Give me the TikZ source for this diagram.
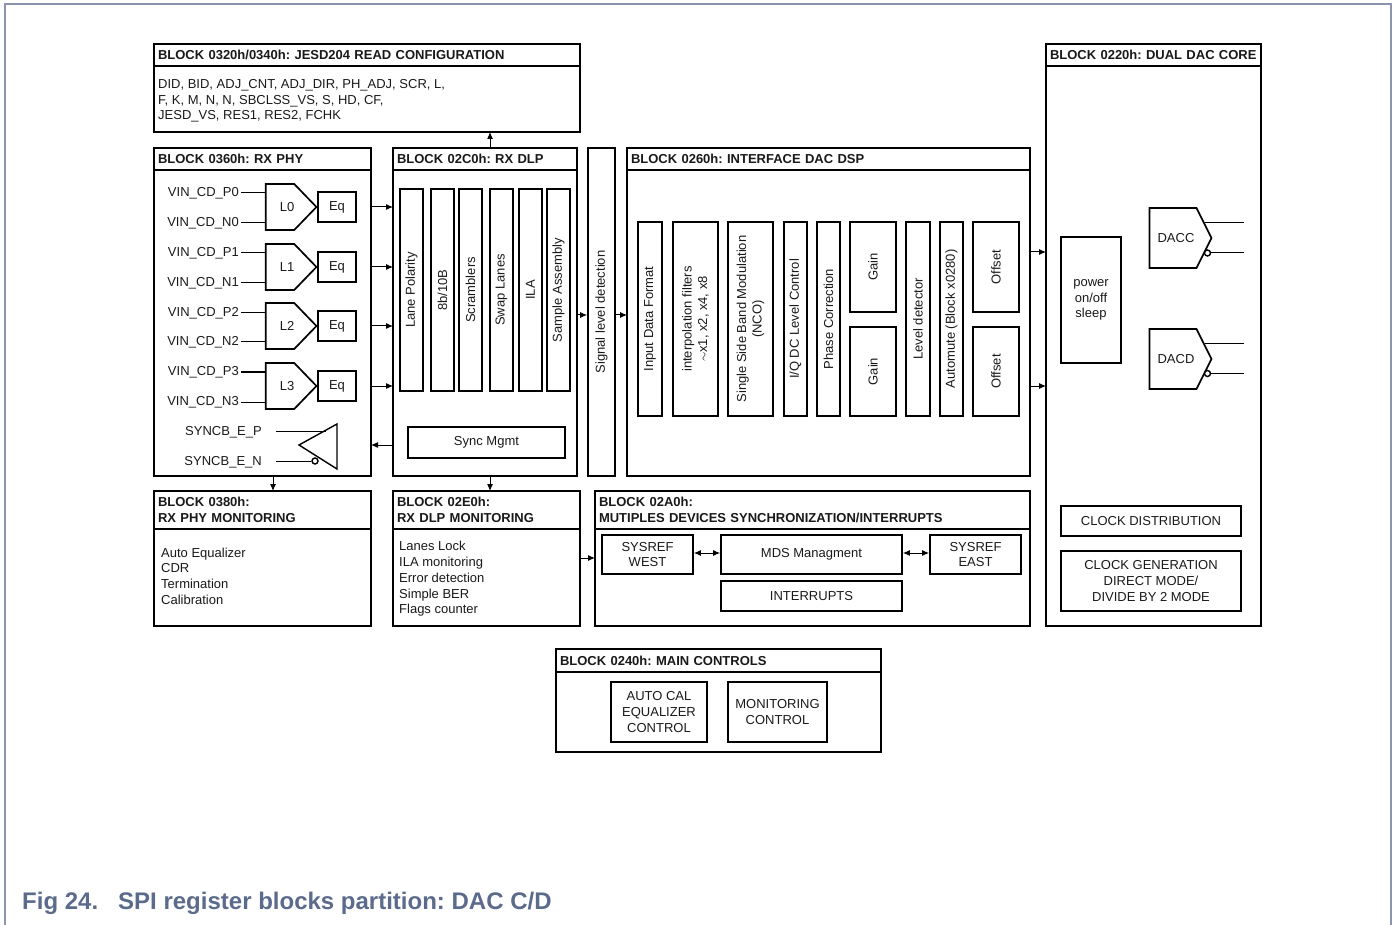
\documentclass[tikz,border=0pt]{standalone}
\usepackage{fontspec}
\setmainfont{Liberation Sans}
\usetikzlibrary{arrows.meta,shapes.symbols}
\definecolor{nxpblue}{HTML}{5B6B8C}
\definecolor{framegray}{HTML}{8A94AC}
\begin{document}
\frenchspacing
\begin{tikzpicture}
[
x=1pt, y=-1pt,
every node/.style ={font=\fontsize{13}{15.7}\selectfont, text=black!90},
head/.style={draw, line width=1.7pt, outer sep=0pt, anchor=north west, inner xsep=4pt, inner ysep=0pt, align=left, font=\fontsize{13}{15.7}\selectfont\bfseries},
body/.style={draw, line width=1.7pt, outer sep=0pt, anchor=north west},
box/.style={draw, line width=1.7pt, align=center, inner sep=0pt},
bar/.style={box, rotate=90},
listing/.style={anchor=west, align=left, inner sep=0pt},
pin/.style={anchor=east, inner sep=2pt},
lane/.style={draw, line width=1.7pt, shape=signal, signal to=east, signal pointer angle=92, minimum width=50pt, minimum height=46pt, inner sep=0pt},
dac/.style={draw, line width=1.7pt, shape=signal, signal to=east, signal pointer angle=127, minimum width=62pt, minimum height=60pt, inner sep=0pt},
bubble/.style={circle, draw, line width=1.4pt, fill=white, minimum size=6pt, inner sep=0pt},
wire/.style={line width=1pt},
arr/.style={line width=1pt, -{Latex[length=7pt,width=6pt]}},
darr/.style={line width=1pt, {Latex[length=7pt,width=6pt]}-{Latex[length=7pt,width=6pt]}},
]
%
\useasboundingbox (0,0) rectangle (1398,925);
\draw [framegray, line width=1.5pt] (5,925) -- (5,4) -- (1391,4) -- (1391,925);

% JESD204 read configuration
\node [head, text width=418pt, minimum height=22pt] (JESDh) at (154,44) {BLOCK 0320h/0340h: JESD204 READ CONFIGURATION};
\node [body, minimum width=426pt, minimum height=66pt] (JESDb) at (154,66) {};
\node [listing] (JESDt) at (158,101) {DID, BID, ADJ\_CNT, ADJ\_DIR, PH\_ADJ, SCR, L,\\F, K, M, N, N, SBCLSS\_VS, S, HD, CF,\\JESD\_VS, RES1, RES2, FCHK};

% RX PHY
\node [head, text width=209pt, minimum height=22pt] (PHYh) at (154,148) {BLOCK 0360h: RX PHY};
\node [body, minimum width=217pt, minimum height=306pt] (PHYb) at (154,170) {};
%
\node [lane] (L0) at (280,207) {\hspace*{14pt}L0};
\node [lane] (L1) at (280,267) {\hspace*{14pt}L1};
\node [lane] (L2) at (280,326) {\hspace*{14pt}L2};
\node [lane] (L3) at (280,386) {\hspace*{14pt}L3};
\node [box, minimum width=38pt, minimum height=30pt] (E0) at (337,207) {Eq};
\node [box, minimum width=38pt, minimum height=30pt] (E1) at (337,267) {Eq};
\node [box, minimum width=38pt, minimum height=30pt] (E2) at (337,326) {Eq};
\node [box, minimum width=38pt, minimum height=30pt] (E3) at (337,386) {Eq};
%
\node [pin] (P0) at (241,193) {VIN\_CD\_P0};
\node [pin] (N0) at (241,223) {VIN\_CD\_N0};
\node [pin] (P1) at (241,253) {VIN\_CD\_P1};
\node [pin] (N1) at (241,283) {VIN\_CD\_N1};
\node [pin] (P2) at (241,313) {VIN\_CD\_P2};
\node [pin] (N2) at (241,342) {VIN\_CD\_N2};
\node [pin] (P3) at (241,372) {VIN\_CD\_P3};
\node [pin] (N3) at (241,402) {VIN\_CD\_N3};
%
\draw [wire] (P0.east) -- (P0.east -| L0.west);
\draw [wire] (N0.east) -- (N0.east -| L0.west);
\draw [wire] (P1.east) -- (P1.east -| L1.west);
\draw [wire] (N1.east) -- (N1.east -| L1.west);
\draw [wire] (P2.east) -- (P2.east -| L2.west);
\draw [wire] (N2.east) -- (N2.east -| L2.west);
\draw [wire] (P3.east) -- (P3.east -| L3.west);
\draw [wire] (N3.east) -- (N3.east -| L3.west);
%
\coordinate (SyncTip) at (299,445);
\coordinate (SyncTop) at (337,424);
\coordinate (SyncBot) at (337,469);
\draw [line width=1.4pt] (SyncTip) -- (SyncTop) -- (SyncBot) -- cycle;
\node [pin, inner sep=0pt] (SP) at (262,432) {SYNCB\_E\_P};
\node [pin, inner sep=0pt] (SN) at (262,462) {SYNCB\_E\_N};
\node [bubble] (SB) at (315,461) {};
\coordinate (SPe) at (326,431);
\coordinate (SPs) at (276,431);
\coordinate (SNs) at (276,461);
\draw [wire] (SPs) -- (SPe);
\draw [wire] (SNs) -- (SB.west);

% RX DLP
\node [head, text width=176pt, minimum height=22pt] (DLPh) at (393,148) {BLOCK 02C0h: RX DLP};
\node [body, minimum width=184pt, minimum height=306pt] (DLPb) at (393,170) {};
%
\node [bar, minimum width=202pt, minimum height=23pt] (Polarity) at (411.5,290) {Lane Polarity};
\node [bar, minimum width=202pt, minimum height=23pt] (Coding) at (442.5,290) {8b/10B};
\node [bar, minimum width=202pt, minimum height=23pt] (Scramblers) at (470.5,290) {Scramblers};
\node [bar, minimum width=202pt, minimum height=23pt] (Swap) at (501.5,290) {Swap Lanes};
\node [bar, minimum width=202pt, minimum height=23pt] (ILA) at (530.5,290) {ILA};
\node [bar, minimum width=202pt, minimum height=23pt] (Assembly) at (558.5,290) {Sample Assembly};
\node [box, minimum width=157pt, minimum height=31pt] (Sync) at (486.5,442.5) {Sync Mgmt};

% signal level detection
\node [bar, minimum width=328pt, minimum height=27pt] (Level) at (601.5,312) {Signal level detection};

% interface DAC DSP
\node [head, text width=395pt, minimum height=22pt] (DSPh) at (627,148) {BLOCK 0260h: INTERFACE DAC DSP};
\node [body, minimum width=403pt, minimum height=306pt] (DSPb) at (627,170) {};
%
\node [bar, minimum width=194pt, minimum height=24pt] (Format) at (650,319) {Input Data Format};
\node [bar, minimum width=194pt, minimum height=45pt] (Interp) at (695.5,319) {interpolation filters\\$\sim$x1, x2, x4, x8};
\node [bar, minimum width=194pt, minimum height=45pt] (NCO) at (750.5,319) {Single Side Band Modulation\\(NCO)};
\node [bar, minimum width=194pt, minimum height=23pt] (DCLevel) at (795.5,319) {I/Q DC Level Control};
\node [bar, minimum width=194pt, minimum height=23pt] (Phase) at (828.5,319) {Phase Correction};
\node [bar, minimum width=90pt, minimum height=46pt] (GainA) at (873,267) {Gain};
\node [bar, minimum width=89pt, minimum height=46pt] (GainB) at (873,371.5) {Gain};
\node [bar, minimum width=194pt, minimum height=24pt] (LevelDet) at (918,319) {Level detector};
\node [bar, minimum width=194pt, minimum height=23pt] (Automute) at (951.5,319) {Automute (Block x0280)};
\node [bar, minimum width=90pt, minimum height=46pt] (OffsetA) at (996,267) {Offset};
\node [bar, minimum width=89pt, minimum height=46pt] (OffsetB) at (996,371.5) {Offset};

% dual DAC core
\node [head, text width=207pt, minimum height=22pt] (COREh) at (1046,44) {BLOCK 0220h: DUAL DAC CORE};
\node [body, minimum width=215pt, minimum height=560pt] (COREb) at (1046,66) {};
%
\node [box, minimum width=60pt, minimum height=126pt] (Power) at (1091,300) {power\\on/off\\sleep};
\node [dac] (DACC) at (1173,238) {\hspace*{6pt}DACC};
\node [dac] (DACD) at (1173,359) {\hspace*{6pt}DACD};
\node [bubble] (CB) at (1207.5,253) {};
\node [bubble] (DB) at (1207.5,373.5) {};
\coordinate (CPs) at (1205,223);
\coordinate (CPe) at (1244,223);
\coordinate (CNe) at (1244,253);
\coordinate (DPs) at (1205,344);
\coordinate (DPe) at (1244,344);
\coordinate (DNe) at (1244,373.5);
\draw [wire] (CPs) -- (CPe);
\draw [wire] (CB.east) -- (CNe);
\draw [wire] (DPs) -- (DPe);
\draw [wire] (DB.east) -- (DNe);
%
\node [box, minimum width=180pt, minimum height=30pt] (ClkDist) at (1151,521) {CLOCK DISTRIBUTION};
\node [box, minimum width=180pt, minimum height=60pt] (ClkGen) at (1151,581) {CLOCK GENERATION\\DIRECT MODE/\\DIVIDE BY 2 MODE};

% RX PHY monitoring
\node [head, text width=209pt, minimum height=38pt] (PMONh) at (154,491) {BLOCK 0380h:\\RX PHY MONITORING};
\node [body, minimum width=217pt, minimum height=97pt] (PMONb) at (154,529) {};
\node [listing] (PMONt) at (161,576) {Auto Equalizer\\CDR\\Termination\\Calibration};

% RX DLP monitoring
\node [head, text width=179pt, minimum height=38pt] (DMONh) at (393,491) {BLOCK 02E0h:\\RX DLP MONITORING};
\node [body, minimum width=187pt, minimum height=97pt] (DMONb) at (393,529) {};
\node [listing] (DMONt) at (399,579) {Lanes Lock\\ILA monitoring\\Error detection\\Simple BER\\Flags counter};

% synchronization
\node [head, text width=427pt, minimum height=38pt] (MDSh) at (595,491) {BLOCK 02A0h:\\MUTIPLES DEVICES SYNCHRONIZATION/INTERRUPTS};
\node [body, minimum width=435pt, minimum height=97pt] (MDSb) at (595,529) {};
\node [box, minimum width=91pt, minimum height=39pt] (West) at (647.5,554.5) {SYSREF\\WEST};
\node [box, minimum width=181pt, minimum height=39pt] (Mgmt) at (811.5,554.5) {MDS Managment};
\node [box, minimum width=91pt, minimum height=39pt] (East) at (975.5,554.5) {SYSREF\\EAST};
\node [box, minimum width=181pt, minimum height=30pt] (Interrupts) at (811.5,596) {INTERRUPTS};

% main controls
\node [head, line width=1.2pt, text width=317pt, minimum height=23pt] (MAINh) at (556,649) {BLOCK 0240h: MAIN CONTROLS};
\node [body, line width=1.2pt, minimum width=325pt, minimum height=80pt] (MAINb) at (556,672) {};
\node [box, minimum width=96pt, minimum height=60pt] (AutoCal) at (659,712) {AUTO CAL\\EQUALIZER\\CONTROL};
\node [box, minimum width=99pt, minimum height=60pt] (Monitor) at (777.5,712) {MONITORING\\CONTROL};

% connections
\coordinate (a1) at (490,0);
\coordinate (a2) at (273,0);
\draw [arr] (DLPh.north -| a1) -- (JESDb.south -| a1);
\draw [arr] (PHYb.east |- L0) -- (DLPb.west |- L0);
\draw [arr] (PHYb.east |- L1) -- (DLPb.west |- L1);
\draw [arr] (PHYb.east |- L2) -- (DLPb.west |- L2);
\draw [arr] (PHYb.east |- L3) -- (DLPb.west |- L3);
\draw [arr] (DLPb.west |- SyncTip) -- (PHYb.east |- SyncTip);
\draw [arr] (PHYb.south -| a2) -- (PMONh.north -| a2);
\draw [arr] (DLPb.south -| a1) -- (DMONh.north -| a1);
\coordinate (a3) at (0,315);
\draw [arr] (DLPb.east |- a3) -- (Level.north |- a3);
\draw [arr] (Level.south |- a3) -- (DSPb.west |- a3);
\coordinate (a4) at (0,252);
\coordinate (a5) at (0,386);
\draw [arr] (DSPb.east |- a4) -- (COREb.west |- a4);
\draw [arr] (DSPb.east |- a5) -- (COREb.west |- a5);
\coordinate (a6) at (0,558);
\draw [arr] (DMONb.east |- a6) -- (MDSb.west |- a6);
\draw [darr] (West.east |- 0,553) -- (Mgmt.west |- 0,553);
\draw [darr] (Mgmt.east |- 0,553) -- (East.west |- 0,553);

\node [anchor=west, inner sep=0pt, text=nxpblue, font=\fontsize{24}{26}\selectfont\bfseries] (Caption) at (22,903) {Fig 24.\hspace{20pt}SPI register blocks partition: DAC C/D};
%
\end{tikzpicture}
\end{document}
